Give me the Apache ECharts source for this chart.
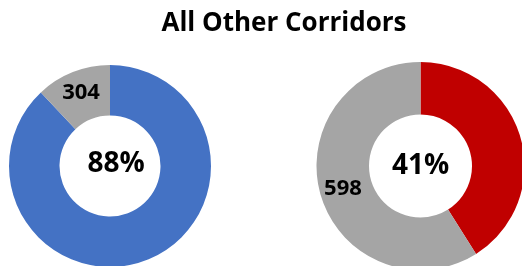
<!DOCTYPE html>
<html><head><meta charset="utf-8">
<script src="https://cdn.jsdelivr.net/npm/echarts@6/dist/echarts.min.js"></script>
<style>html,body{margin:0;padding:0;background:#fff}#c{width:522px;height:266px}</style>
</head><body><div id="c"></div>
<script>
const titleText = 'All Other Corridors';
const leftNames = ['Share', 'Other'];
const leftValues = [2229, 304];
const rightNames = ['Share', 'Other'];
const rightValues = [416, 598];
const FONT = 'Open Sans';

const chart = echarts.init(document.getElementById('c'), null, {renderer: 'canvas'});
function mk(names, values, colors, centerOffset) {
  return names.map((n, i) => ({
    name: n, value: values[i],
    itemStyle: {color: colors[i]},
    label: i === 0
      ? {show: true, position: 'center', formatter: '{d}%', fontSize: 28, fontWeight: 'bold', color: '#000', fontFamily: FONT, offset: centerOffset}
      : {show: true, position: 'inside', formatter: '{c}', fontSize: 22, fontWeight: 'bold', color: '#000', fontFamily: FONT}
  }));
}
chart.setOption({
  animation: false,
  title: {text: titleText, left: 279, top: 6, textAlign: 'center',
    textStyle: {fontFamily: FONT, fontSize: 26, fontWeight: 'bold', color: '#000'}},
  series: [
    {type: 'pie', center: [110, 166], radius: [50.5, 101], startAngle: 90, clockwise: true,
     percentPrecision: 0, labelLine: {show: false}, silent: true,
     itemStyle: {borderWidth: 0}, data: mk(leftNames, leftValues, ['#4472C4', '#A5A5A5'], [6, -2])},
    {type: 'pie', center: [420.5, 166], radius: [51.5, 104], startAngle: 90, clockwise: true,
     percentPrecision: 0, labelLine: {show: false}, silent: true,
     itemStyle: {borderWidth: 0}, data: mk(rightNames, rightValues, ['#C00000', '#A5A5A5'], [0, 0])}
  ]
});
</script></body></html>
